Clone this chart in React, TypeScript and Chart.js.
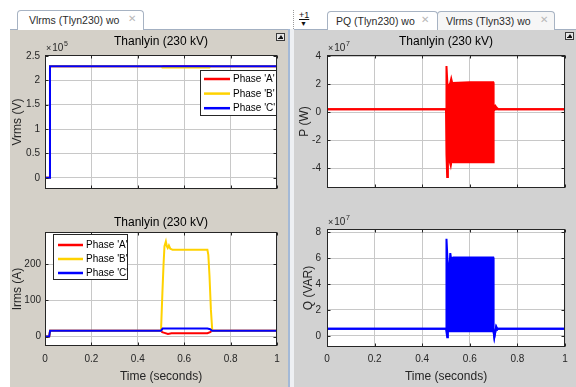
import React, { useEffect, useRef } from 'react';
import { Chart, registerables } from 'chart.js';

Chart.register(...registerables);

// ---------- tick values and labels ----------
const timeTicks = [0, 0.2, 0.4, 0.6, 0.8, 1];
const timeTickLabels = ['0', '0.2', '0.4', '0.6', '0.8', '1'];
const vrmsTicks = [0, 50000, 100000, 150000, 200000, 250000];
const vrmsTickLabels = ['0', '0.5', '1', '1.5', '2', '2.5'];
const irmsTicks = [0, 100, 200];
const irmsTickLabels = ['0', '100', '200'];
const pTicks = [-4e7, -2e7, 0, 2e7, 4e7];
const pTickLabels = ['-4', '-2', '0', '2', '4'];
const qTicks = [0, 2e7, 4e7, 6e7, 8e7];
const qTickLabels = ['0', '2', '4', '6', '8'];

const phaseNames = ["Phase 'A'", "Phase 'B'", "Phase 'C'"];

// ---------- Vrms (V) ----------
const vrmsTimeA = [0, 0.0205, 0.0215, 1];
const vrmsA = [0, 0, 229000, 229000];
const vrmsTimeB = [0, 0.0205, 0.0215, 0.503, 0.506, 0.709, 0.713, 1];
const vrmsB = [0, 0, 229000, 229000, 226500, 226500, 229000, 229000];
const vrmsTimeC = [0, 0.0205, 0.0215, 1];
const vrmsC = [0, 0, 229000, 229000];

// ---------- Irms (A) ----------
const irmsTimeA = [0, 0.018, 0.022, 0.5, 0.505, 0.515, 0.53, 0.545, 0.7, 0.712, 0.72, 1];
const irmsA = [0, 0, 16, 16, 12, 10, 7, 9, 9, 12, 16, 16];
const irmsTimeB = [0, 0.018, 0.022, 0.5, 0.506, 0.511, 0.515, 0.521, 0.525, 0.529, 0.534, 0.54, 0.55, 0.7, 0.704, 0.709, 0.715, 0.721, 1];
const irmsB = [0, 0, 16, 16, 120, 200, 250, 263, 250, 245, 252, 243, 240, 240, 226, 168, 75, 16, 16];
const irmsTimeC = [0, 0.018, 0.022, 0.5, 0.507, 0.7, 0.712, 0.72, 1];
const irmsC = [0, 0, 16, 16, 22, 22, 20, 16, 16];

// ---------- P (W): envelope of the oscillation ----------
const pUpperTime = [0, 0.5, 0.501, 0.503, 0.506, 0.512, 0.518, 0.522, 0.526, 0.6, 0.698, 0.7, 0.704, 0.708, 0.712, 0.72, 1];
const pUpper = [0.22e7, 0.22e7, 3.0e7, 3.3e7, 2.0e7, 1.9e7, 2.1e7, 2.4e7, 2.1e7, 2.15e7, 2.15e7, 0.6e7, 0.3e7, 0.45e7, 0.35e7, 0.22e7, 0.22e7];
const pLowerTime = [0, 0.5, 0.502, 0.505, 0.508, 0.514, 0.52, 0.524, 0.53, 0.698, 0.7, 0.705, 0.72, 1];
const pLower = [0.22e7, 0.22e7, -3.0e7, -4.6e7, -3.2e7, -3.4e7, -3.8e7, -3.4e7, -3.55e7, -3.55e7, 0.1e7, 0.2e7, 0.22e7, 0.22e7];

// ---------- Q (VAR): envelope of the oscillation ----------
const qUpperTime = [0, 0.5, 0.501, 0.503, 0.506, 0.509, 0.515, 0.518, 0.522, 0.53, 0.698, 0.7, 0.703, 0.707, 0.711, 0.716, 0.72, 1];
const qUpper = [0.55e7, 0.55e7, 4.5e7, 7.5e7, 6.0e7, 5.3e7, 5.3e7, 6.4e7, 5.9e7, 6.05e7, 6.05e7, 0.4e7, -0.1e7, 0.3e7, 0.7e7, 0.5e7, 0.55e7, 0.55e7];
const qLowerTime = [0, 0.5, 0.502, 0.505, 0.508, 0.698, 0.7, 0.703, 0.707, 0.711, 0.716, 0.72, 1];
const qLower = [0.55e7, 0.55e7, 0.3e7, -0.1e7, 0.35e7, 0.35e7, 0.3e7, -0.1e7, 0.3e7, 0.7e7, 0.5e7, 0.55e7, 0.55e7];

// ---------- styles ----------
const FONT = '"Liberation Sans", Arial, Helvetica, sans-serif';
const INK = '#262626';
const GRID = '#c8c8c8';
const RED = '#ff0000';
const YELLOW = '#ffd200';
const BLUE = '#0000ff';

const pts = (t: number[], v: number[]) => t.map((x, i) => ({ x, y: v[i] }));

type LegendCfg = { side: 'left' | 'right'; dx: number; dy: number; w: number; h: number; row0: number; gap: number; lx0: number; lx1: number; tx: number };

function decor(exponent: string | null, legend: LegendCfg | null) {
  return {
    id: 'decor',
    beforeDraw(chart: any) {
      const { ctx, chartArea: a } = chart;
      ctx.save();
      ctx.fillStyle = '#ffffff';
      ctx.fillRect(a.left, a.top, a.right - a.left, a.bottom - a.top);
      ctx.restore();
    },
    afterDatasetsDraw(chart: any) {
      const { ctx, chartArea: a, scales } = chart;
      ctx.save();
      ctx.strokeStyle = INK;
      ctx.lineWidth = 1;
      const L = Math.round(a.left) + 0.5;
      const R = Math.round(a.right) - 0.5;
      const T = Math.round(a.top) + 0.5;
      const B = Math.round(a.bottom) - 0.5;
      ctx.strokeRect(L, T, R - L, B - T);
      ctx.beginPath();
      scales.x.ticks.forEach((tk: any) => {
        const px = Math.round(scales.x.getPixelForValue(tk.value)) + 0.5;
        ctx.moveTo(px, T); ctx.lineTo(px, T + 3);
        ctx.moveTo(px, B); ctx.lineTo(px, B - 3);
      });
      scales.y.ticks.forEach((tk: any) => {
        const py = Math.round(scales.y.getPixelForValue(tk.value)) + 0.5;
        ctx.moveTo(L, py); ctx.lineTo(L + 3, py);
        ctx.moveTo(R, py); ctx.lineTo(R - 3, py);
      });
      ctx.stroke();
      ctx.restore();
    },
    afterDraw(chart: any) {
      const { ctx, chartArea: a } = chart;
      ctx.save();
      if (legend) {
        const x0 = legend.side === 'right' ? Math.round(a.right - legend.dx - legend.w) : Math.round(a.left + legend.dx);
        const y0 = Math.round(a.top + legend.dy);
        ctx.fillStyle = '#ffffff';
        ctx.fillRect(x0, y0, legend.w, legend.h);
        ctx.strokeStyle = INK;
        ctx.lineWidth = 1;
        ctx.strokeRect(x0 + 0.5, y0 + 0.5, legend.w - 1, legend.h - 1);
        ctx.font = `10px ${FONT}`;
        ctx.textBaseline = 'middle';
        ctx.textAlign = 'left';
        chart.data.datasets.forEach((ds: any, i: number) => {
          const y = y0 + legend.row0 + i * legend.gap;
          ctx.strokeStyle = ds.borderColor;
          ctx.lineWidth = 2.5;
          ctx.beginPath();
          ctx.moveTo(x0 + legend.lx0, y);
          ctx.lineTo(x0 + legend.lx1, y);
          ctx.stroke();
          ctx.fillStyle = '#000000';
          ctx.fillText(ds.label, x0 + legend.tx, y + 0.5);
        });
      }
      if (exponent) {
        ctx.fillStyle = INK;
        ctx.textBaseline = 'alphabetic';
        ctx.textAlign = 'left';
        const bx = a.left + 1;
        const by = a.top - 4;
        ctx.font = `9px ${FONT}`;
        ctx.fillText('\u00d7', bx, by);
        const w1 = ctx.measureText('\u00d7').width + 1;
        ctx.font = `10px ${FONT}`;
        ctx.fillText('10', bx + w1, by);
        const w2 = ctx.measureText('10').width;
        ctx.font = `7px ${FONT}`;
        ctx.fillText(exponent, bx + w1 + w2 + 0.5, by - 5);
      }
      ctx.restore();
    },
  };
}

interface Spec {
  datasets: any[];
  padding: { left: number; right: number; top: number; bottom: number };
  title: string | null;
  titlePad: { top: number; bottom: number };
  showX: boolean;
  xHeight: number;
  xTickPad: number;
  yMin: number;
  yMax: number;
  yTicks: number[];
  yLabels: string[];
  yTitle: string;
  yWidth: number;
  yTickPad: number;
  yTitlePad: number;
  exponent: string | null;
  legend: LegendCfg | null;
}

function makeChart(canvas: HTMLCanvasElement, s: Spec) {
  return new Chart(canvas, {
    type: 'line',
    data: { datasets: s.datasets },
    options: {
      animation: false,
      responsive: false,
      events: [],
      layout: { padding: s.padding },
      elements: { point: { radius: 0 }, line: { tension: 0 } },
      plugins: {
        legend: { display: false },
        tooltip: { enabled: false },
        title: s.title
          ? { display: true, text: s.title, color: '#000000', fullSize: false, font: { family: FONT, size: 12, weight: 'normal' }, padding: s.titlePad }
          : { display: false },
      },
      scales: {
        x: {
          type: 'linear',
          min: 0,
          max: 1,
          afterBuildTicks: (sc: any) => { sc.ticks = timeTicks.map((value) => ({ value })); },
          afterFit: (sc: any) => { sc.height = s.xHeight; },
          grid: { color: GRID, drawTicks: false },
          border: { display: false },
          ticks: {
            display: s.showX,
            autoSkip: false,
            maxRotation: 0,
            padding: s.xTickPad,
            color: INK,
            font: { family: FONT, size: 10 },
            callback: (_v: any, i: number) => timeTickLabels[i],
          },
          title: { display: s.showX, text: 'Time (seconds)', color: INK, font: { family: FONT, size: 12 }, padding: { top: 0, bottom: 3.1 } },
        },
        y: {
          type: 'linear',
          min: s.yMin,
          max: s.yMax,
          afterBuildTicks: (sc: any) => { sc.ticks = s.yTicks.map((value) => ({ value })); },
          afterFit: (sc: any) => { sc.width = s.yWidth; },
          grid: { color: GRID, drawTicks: false },
          border: { display: false },
          ticks: {
            autoSkip: false,
            padding: s.yTickPad,
            color: INK,
            font: { family: FONT, size: 10 },
            callback: (_v: any, i: number) => s.yLabels[i],
          },
          title: { display: true, text: s.yTitle, color: INK, font: { family: FONT, size: 12 }, padding: { top: s.yTitlePad, bottom: 0 } },
        },
      },
    } as any,
    plugins: [decor(s.exponent, s.legend) as any],
  });
}

const phaseSet = (label: string, color: string, t: number[], v: number[], order: number) => ({
  label, borderColor: color, backgroundColor: color, borderWidth: 2, data: pts(t, v), order, fill: false,
});

function Tab({ left, top, width, height, text, active, textLeft, xLeft }: any) {
  return (
    <div style={{ position: 'absolute', left, top, width, height, boxSizing: 'border-box', border: '1px solid #a7b3c3', borderBottom: 'none', borderRadius: '4px 4px 0 0', background: active ? '#ffffff' : '#f6f6f6' }}>
      <span style={{ position: 'absolute', left: textLeft, top: 3, fontSize: 10.5, color: '#2b2b2b', whiteSpace: 'nowrap' }}>{text}</span>
      <span style={{ position: 'absolute', left: xLeft, top: 2, fontSize: 10, color: '#b8b8b8' }}>{'\u2715'}</span>
    </div>
  );
}

function Pin({ left, top }: any) {
  return (
    <div style={{ position: 'absolute', left, top, width: 9, height: 8, boxSizing: 'border-box', border: '1px solid #3a3a3a', background: '#e6e6e6' }}>
      <div style={{ position: 'absolute', left: 1.5, top: 1, width: 0, height: 0, borderLeft: '2px solid transparent', borderRight: '2px solid transparent', borderBottom: '3px solid #111' }} />
      <div style={{ position: 'absolute', left: 1, top: 4, width: 5, height: 1, background: '#111' }} />
    </div>
  );
}

export default function App() {
  const c1 = useRef<HTMLCanvasElement>(null);
  const c2 = useRef<HTMLCanvasElement>(null);
  const c3 = useRef<HTMLCanvasElement>(null);
  const c4 = useRef<HTMLCanvasElement>(null);

  useEffect(() => {
    const charts: Chart[] = [];
    charts.push(makeChart(c1.current!, {
      datasets: [
        phaseSet(phaseNames[0], RED, vrmsTimeA, vrmsA, 3),
        phaseSet(phaseNames[1], YELLOW, vrmsTimeB, vrmsB, 2),
        phaseSet(phaseNames[2], BLUE, vrmsTimeC, vrmsC, 1),
      ],
      padding: { left: 0, right: 11, top: 0, bottom: 4 },
      title: 'Thanlyin (230 kV)', titlePad: { top: 4.8, bottom: 5.8 },
      showX: false, xHeight: 0, xTickPad: 0,
      yMin: -22900, yMax: 251900, yTicks: vrmsTicks, yLabels: vrmsTickLabels,
      yTitle: 'Vrms (V)', yWidth: 45, yTickPad: 5, yTitlePad: 10.5,
      exponent: '5',
      legend: { side: 'right', dx: 0, dy: 15, w: 77, h: 46, row0: 9, gap: 14.6, lx0: 4, lx1: 30, tx: 33 },
    }));
    charts.push(makeChart(c2.current!, {
      datasets: [
        phaseSet(phaseNames[0], RED, irmsTimeA, irmsA, 3),
        phaseSet(phaseNames[1], YELLOW, irmsTimeB, irmsB, 2),
        phaseSet(phaseNames[2], BLUE, irmsTimeC, irmsC, 1),
      ],
      padding: { left: 0, right: 11, top: 0, bottom: 0 },
      title: 'Thanlyin (230 kV)', titlePad: { top: 15.5, bottom: 2.1 },
      showX: true, xHeight: 41, xTickPad: 7,
      yMin: -26.3, yMax: 289.3, yTicks: irmsTicks, yLabels: irmsTickLabels,
      yTitle: 'Irms (A)', yWidth: 45, yTickPad: 4, yTitlePad: 10,
      exponent: null,
      legend: { side: 'left', dx: 8, dy: 2, w: 75, h: 46, row0: 11, gap: 14, lx0: 5, lx1: 30, tx: 33 },
    }));
    charts.push(makeChart(c3.current!, {
      datasets: [
        { label: 'P upper', borderColor: RED, backgroundColor: RED, borderWidth: 2, data: pts(pUpperTime, pUpper), fill: '+1' },
        { label: 'P lower', borderColor: RED, backgroundColor: RED, borderWidth: 2, data: pts(pLowerTime, pLower), fill: false },
      ],
      padding: { left: 0, right: 11, top: 0, bottom: 4 },
      title: 'Thanlyin (230 kV)', titlePad: { top: 4.8, bottom: 5.8 },
      showX: false, xHeight: 0, xTickPad: 0,
      yMin: -5.39e7, yMax: 4.09e7, yTicks: pTicks, yLabels: pTickLabels,
      yTitle: 'P (W)', yWidth: 33, yTickPad: 6, yTitlePad: 3,
      exponent: '7',
      legend: null,
    }));
    charts.push(makeChart(c4.current!, {
      datasets: [
        { label: 'Q upper', borderColor: BLUE, backgroundColor: BLUE, borderWidth: 2, data: pts(qUpperTime, qUpper), fill: '+1' },
        { label: 'Q lower', borderColor: BLUE, backgroundColor: BLUE, borderWidth: 2, data: pts(qLowerTime, qLower), fill: false },
      ],
      padding: { left: 0, right: 11, top: 29, bottom: 0 },
      title: null, titlePad: { top: 0, bottom: 0 },
      showX: true, xHeight: 40, xTickPad: 6,
      yMin: -0.86e7, yMax: 8.26e7, yTicks: qTicks, yLabels: qTickLabels,
      yTitle: 'Q (VAR)', yWidth: 33, yTickPad: 6, yTitlePad: 7,
      exponent: '7',
      legend: null,
    }));
    return () => charts.forEach((c) => c.destroy());
  }, []);

  const cv = (left: number, top: number, w: number, h: number) => ({ position: 'absolute' as const, left, top, width: w, height: h });

  return (
    <div style={{ position: 'fixed', left: 0, top: 0, width: 576, height: 387, background: '#ffffff', overflow: 'hidden', fontFamily: FONT }}>
      {/* left figure panel */}
      <div style={{ position: 'absolute', left: 10, top: 29, width: 278, height: 358, background: '#d4d0c8', borderTop: '1px solid #a3b0c2', boxSizing: 'border-box' }} />
      {/* separator */}
      <div style={{ position: 'absolute', left: 288, top: 29, width: 2, height: 358, background: '#a4b9d6' }} />
      <div style={{ position: 'absolute', left: 290, top: 29, width: 4, height: 358, background: '#eef0f3' }} />
      {/* right figure panel */}
      <div style={{ position: 'absolute', left: 294, top: 29, width: 282, height: 358, background: '#d2d2d2', borderTop: '1px solid #a3b0c2', boxSizing: 'border-box' }} />

      {/* tabs */}
      <Tab left={17} top={10} width={127} height={20} text="Vlrms (Tlyn230) wo" active textLeft={11} xLeft={110} />
      <div style={{ position: 'absolute', left: 293, top: 10, width: 22, height: 19, background: '#ffffff', borderLeft: '1px dotted #9a9a9a' }}>
        <span style={{ position: 'absolute', left: 5, top: 0, fontSize: 9, color: '#111', textDecoration: 'underline' }}>+1</span>
        <span style={{ position: 'absolute', left: 6, top: 10, fontSize: 7, color: '#111' }}>{'\u25bc'}</span>
      </div>
      <Tab left={327} top={11} width={111} height={19} text="PQ (Tlyn230) wo" active textLeft={8} xLeft={93} />
      <Tab left={437} top={11} width={118} height={19} text="Vlrms (Tlyn33) wo" active={false} textLeft={8} xLeft={102} />

      <Pin left={276} top={33} />
      <Pin left={565} top={32} />

      <canvas ref={c1} width={288} height={170} style={cv(0, 30, 288, 170)} />
      <canvas ref={c2} width={288} height={187} style={cv(0, 200, 288, 187)} />
      <canvas ref={c3} width={282} height={170} style={cv(294, 30, 282, 170)} />
      <canvas ref={c4} width={282} height={187} style={cv(294, 200, 282, 187)} />
    </div>
  );
}
